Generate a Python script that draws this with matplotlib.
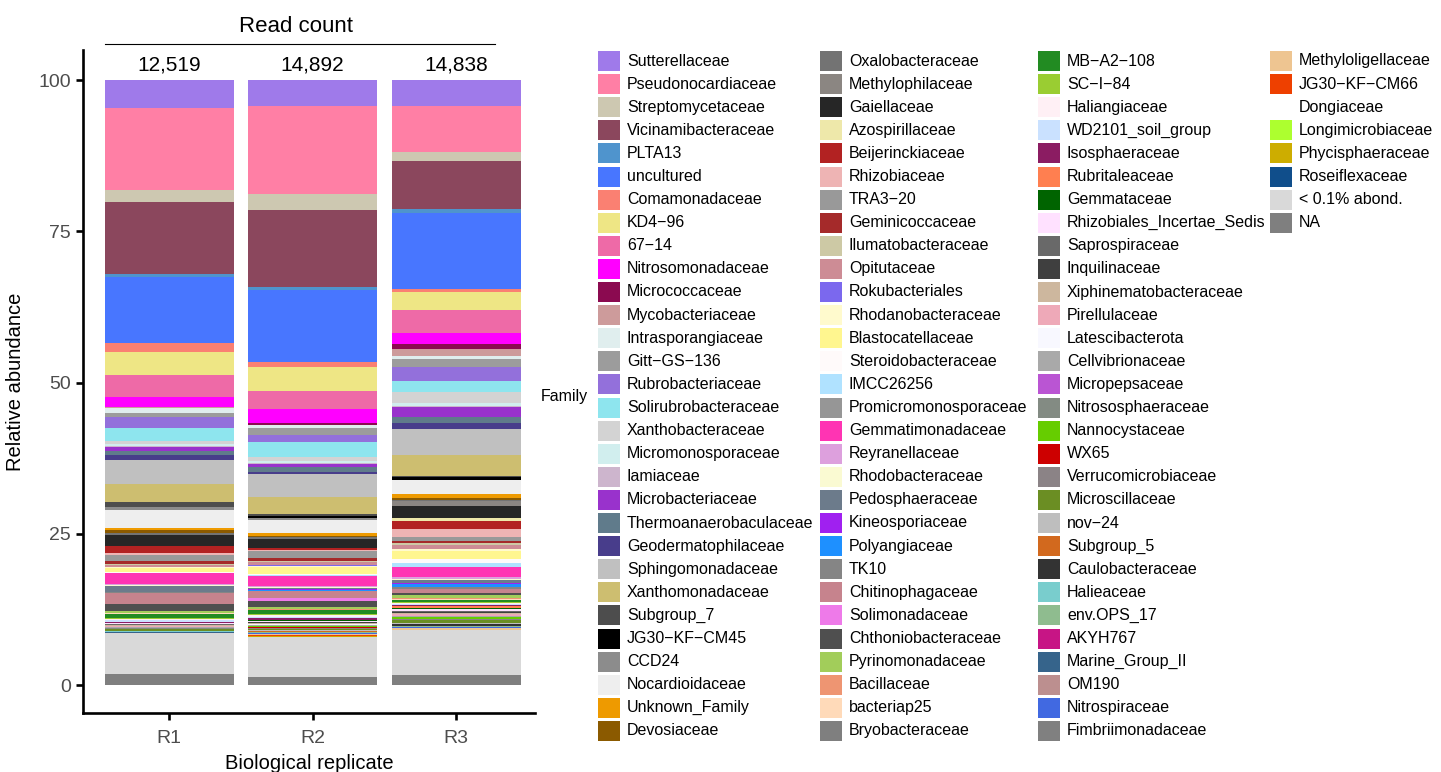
import matplotlib
matplotlib.use('Agg')
import matplotlib.pyplot as plt
from matplotlib.patches import Rectangle
from matplotlib.lines import Line2D

plt.rcParams['font.family'] = ['Liberation Sans', 'DejaVu Sans']

replicates = ['R1', 'R2', 'R3']
read_counts = ['12,519', '14,892', '14,838']

families = [
    'Sutterellaceae', 'Pseudonocardiaceae', 'Streptomycetaceae', 'Vicinamibacteraceae',
    'PLTA13', 'uncultured', 'Comamonadaceae', 'KD4\u221296', '67\u221214',
    'Nitrosomonadaceae', 'Micrococcaceae', 'Mycobacteriaceae', 'Intrasporangiaceae',
    'Gitt\u2212GS\u2212136', 'Rubrobacteriaceae', 'Solirubrobacteraceae', 'Xanthobacteraceae',
    'Micromonosporaceae', 'Iamiaceae', 'Microbacteriaceae', 'Thermoanaerobaculaceae',
    'Geodermatophilaceae', 'Sphingomonadaceae', 'Xanthomonadaceae', 'Subgroup_7',
    'JG30\u2212KF\u2212CM45', 'CCD24', 'Nocardioidaceae', 'Unknown_Family', 'Devosiaceae',
    'Oxalobacteraceae', 'Methylophilaceae', 'Gaiellaceae', 'Azospirillaceae',
    'Beijerinckiaceae', 'Rhizobiaceae', 'TRA3\u221220', 'Geminicoccaceae',
    'Ilumatobacteraceae', 'Opitutaceae', 'Rokubacteriales', 'Rhodanobacteraceae',
    'Blastocatellaceae', 'Steroidobacteraceae', 'IMCC26256', 'Promicromonosporaceae',
    'Gemmatimonadaceae', 'Reyranellaceae', 'Rhodobacteraceae', 'Pedosphaeraceae',
    'Kineosporiaceae', 'Polyangiaceae', 'TK10', 'Chitinophagaceae', 'Solimonadaceae',
    'Chthoniobacteraceae', 'Pyrinomonadaceae', 'Bacillaceae', 'bacteriap25',
    'Bryobacteraceae', 'MB\u2212A2\u2212108', 'SC\u2212I\u221284', 'Haliangiaceae',
    'WD2101_soil_group', 'Isosphaeraceae', 'Rubritaleaceae', 'Gemmataceae',
    'Rhizobiales_Incertae_Sedis', 'Saprospiraceae', 'Inquilinaceae',
    'Xiphinematobacteraceae', 'Pirellulaceae', 'Latescibacterota', 'Cellvibrionaceae',
    'Micropepsaceae', 'Nitrososphaeraceae', 'Nannocystaceae', 'WX65',
    'Verrucomicrobiaceae', 'Microscillaceae', 'nov\u221224', 'Subgroup_5',
    'Caulobacteraceae', 'Halieaceae', 'env.OPS_17', 'AKYH767', 'Marine_Group_II',
    'OM190', 'Nitrospiraceae', 'Fimbriimonadaceae', 'Methyloligellaceae',
    'JG30\u2212KF\u2212CM66', 'Dongiaceae', 'Longimicrobiaceae', 'Phycisphaeraceae',
    'Roseiflexaceae', '< 0.1% abond.', 'NA',
]

colors = [
    '#9F7AEA', '#FF7FA5', '#CDC8B1', '#8B475D', '#4F94CD', '#4876FF', '#FA8072',
    '#EEE685', '#EE6AA7', '#FF00FF', '#8B0A50', '#CD9B9B', '#E0EEEE', '#9C9C9C',
    '#9370DB', '#8EE5EE', '#D3D3D3', '#D1EEEE', '#CDB5CD', '#9932CC', '#607B8B',
    '#483D8B', '#C0C0C0', '#CDBE70', '#4D4D4D', '#000000', '#8C8C8C', '#EEEEEE',
    '#EE9A00', '#8B5A00', '#737373', '#8B8682', '#262626', '#EEE8AA', '#B22222',
    '#EEB4B4', '#999999', '#A52A2A', '#CDC9A5', '#CD8C95', '#7B68EE', '#FFFACD',
    '#FFF68F', '#FFFAFA', '#B0E2FF', '#969696', '#FF34B3', '#DDA0DD', '#FAFAD2',
    '#6C7B8B', '#A020F0', '#1E90FF', '#858585', '#C6838D', '#EE7AE9', '#4F4F4F',
    '#A2CD5A', '#EE9572', '#FFDAB9', '#7F7F7F', '#228B22', '#9ACD32', '#FFF0F5',
    '#CAE1FF', '#8B1C62', '#FF7F50', '#006400', '#FFE1FF', '#696969', '#3F3F3F',
    '#CDB79E', '#EEA9B8', '#F8F8FF', '#A9A9A9', '#BA55D3', '#838B83', '#66CD00',
    '#CD0000', '#8B8386', '#6B8E23', '#BEBEBE', '#D2691E', '#333333', '#79CDCD',
    '#8FBC8F', '#C71585', '#36648B', '#BC8F8F', '#4169E1', '#808080', '#EEC591',
    '#EE4000', '#FFFFFF', '#ADFF2F', '#CDAD00', '#104E8B', '#D9D9D9', '#7F7F7F',
]

# relative abundance (%) per family, same order as `families`
r1 = [4.6, 13.6, 1.9, 11.9, 0.5, 10.9, 1.5, 3.8, 3.6, 1.7,
      0.0, 0.2, 0.8, 0.6, 1.9, 2.1, 0.6, 0.2, 0.2, 0.7,
      0.6, 0.9, 4.0, 3.0, 0.7, 0.1, 0.4, 3.0, 0.4, 0.5,
      0.2, 0.0, 1.9, 0.0, 1.1, 0.4, 1.0, 0.5, 0.2, 0.2,
      0.0, 0.3, 0.6, 0.1, 0.1, 0.0, 1.8, 0.2, 0.1, 1.0,
      0.0, 0.0, 0.2, 1.8, 0.0, 1.1, 0.45, 0.0, 0.05, 0.1,
      0.65, 0.05, 0.25, 0.25, 0.15, 0.05, 0.05, 0.15, 0.1, 0.05,
      0.15, 0.15, 0.05, 0.1, 0.05, 0.1, 0.0, 0.0, 0.05, 0.3,
      0.05, 0.0, 0.05, 0.05, 0.05, 0.0, 0.1, 0.05, 0.05, 0.05,
      0.0, 0.0, 0.0, 0.0, 0.0, 0.0, 6.65, 1.9]
r2 = [4.3, 14.5, 2.6, 12.7, 0.55, 11.95, 0.8, 4.0, 2.9, 2.3,
      0.3, 0.15, 0.5, 1.1, 1.1, 2.5, 0.7, 0.25, 0.3, 0.5,
      0.7, 0.45, 3.7, 2.9, 0.3, 0.3, 0.35, 2.1, 0.55, 0.2,
      0.2, 0.0, 1.5, 0.0, 0.45, 0.1, 1.1, 0.55, 0.2, 0.4,
      0.3, 0.1, 1.1, 0.2, 0.2, 0.0, 1.65, 0.2, 0.1, 0.2,
      0.2, 0.1, 0.1, 1.0, 0.6, 0.94, 0.4, 0.05, 0.05, 0.05,
      0.7, 0.15, 0.2, 0.25, 0.3, 0.1, 0.05, 0.15, 0.1, 0.1,
      0.15, 0.1, 0.1, 0.1, 0.05, 0.1, 0.05, 0.25, 0.1, 0.25,
      0.05, 0.2, 0.05, 0.0, 0.05, 0.0, 0.05, 0.1, 0.05, 0.05,
      0.15, 0.2, 0.05, 0.0, 0.05, 0.0, 6.6, 1.4]
r3 = [4.3, 7.5, 1.5, 7.95, 0.65, 12.6, 0.5, 2.9, 3.9, 1.75,
      0.9, 1.1, 0.55, 1.3, 2.3, 1.85, 1.85, 0.4, 0.25, 1.55,
      1.1, 0.9, 4.3, 3.5, 0.2, 0.45, 0.05, 2.3, 0.7, 0.3,
      0.2, 0.76, 2.04, 0.4, 1.42, 1.33, 0.55, 0.44, 0.3, 0.69,
      0.0, 0.3, 1.36, 0.6, 0.62, 0.0, 1.76, 0.2, 0.24, 0.55,
      0.1, 0.45, 0.3, 0.8, 0.0, 0.28, 0.55, 0.1, 0.1, 0.05,
      0.4, 0.1, 0.15, 0.15, 0.2, 0.3, 0.25, 0.3, 0.2, 0.1,
      0.2, 0.3, 0.05, 0.1, 0.05, 0.05, 0.25, 0.0, 0.1, 0.65,
      0.1, 0.0, 0.35, 0.05, 0.05, 0.0, 0.0, 0.1, 0.05, 0.05,
      0.3, 0.0, 0.0, 0.0, 0.05, 0.0, 7.44, 1.66]

W, H = 1441, 772
fig = plt.figure(figsize=(W / 100, H / 100), dpi=100)
ax = fig.add_axes([83 / W, 1 - 713 / H, 452 / W, 663 / H])

xpos = [1, 2, 3]
bottoms = [0.0, 0.0, 0.0]
# ggplot stacks the first level on top, so draw from the last family up
for i in range(len(families) - 1, -1, -1):
    vals = [r1[i], r2[i], r3[i]]
    ax.bar(xpos, vals, bottom=bottoms, width=0.9, color=colors[i], linewidth=0)
    bottoms = [b + v for b, v in zip(bottoms, vals)]

ax.set_xlim(0.4, 3.55)
ax.set_ylim(-4.6, 105)
ax.set_yticks([0, 25, 50, 75, 100])
ax.set_xticks(xpos)
ax.set_xticklabels(replicates)
ax.tick_params(axis='both', labelsize=14, labelcolor='#4D4D4D', length=5, width=1.9,
               color='black')
ax.tick_params(axis='x', pad=7)
for side in ['top', 'right']:
    ax.spines[side].set_visible(False)
for side in ['left', 'bottom']:
    ax.spines[side].set_linewidth(1.9)
ax.set_ylabel('Relative abundance', fontsize=14.5, labelpad=10)
ax.set_xlabel('Biological replicate', fontsize=14.5, labelpad=5)

# read counts above each bar
for x, rc in zip(xpos, read_counts):
    ax.text(x, 102.5, rc, ha='center', va='center', fontsize=15, clip_on=False)
fig.text(296 / W, 1 - 27 / H, 'Read count', ha='center', va='center', fontsize=16)
fig.add_artist(Line2D([105 / W, 495 / W], [1 - 44 / H, 1 - 44 / H],
                      transform=fig.transFigure, color='black', linewidth=0.8))

# legend: four columns of swatches
fig.text(541 / W, 1 - 396 / H, 'Family', ha='left', va='center', fontsize=11.5)
col_x = [598, 820, 1038, 1270]
rows = 30
for i, (name, c) in enumerate(zip(families, colors)):
    col, row = divmod(i, rows)
    x0 = col_x[col]
    yc = 61 + 23.1 * row
    fig.add_artist(Rectangle((x0 / W, 1 - (yc + 10) / H), 22 / W, 20 / H,
                             transform=fig.transFigure, facecolor=c, linewidth=0))
    fig.text((x0 + 29) / W, 1 - yc / H, name, ha='left', va='center', fontsize=11.5)

fig.savefig('out.png', dpi=100)
